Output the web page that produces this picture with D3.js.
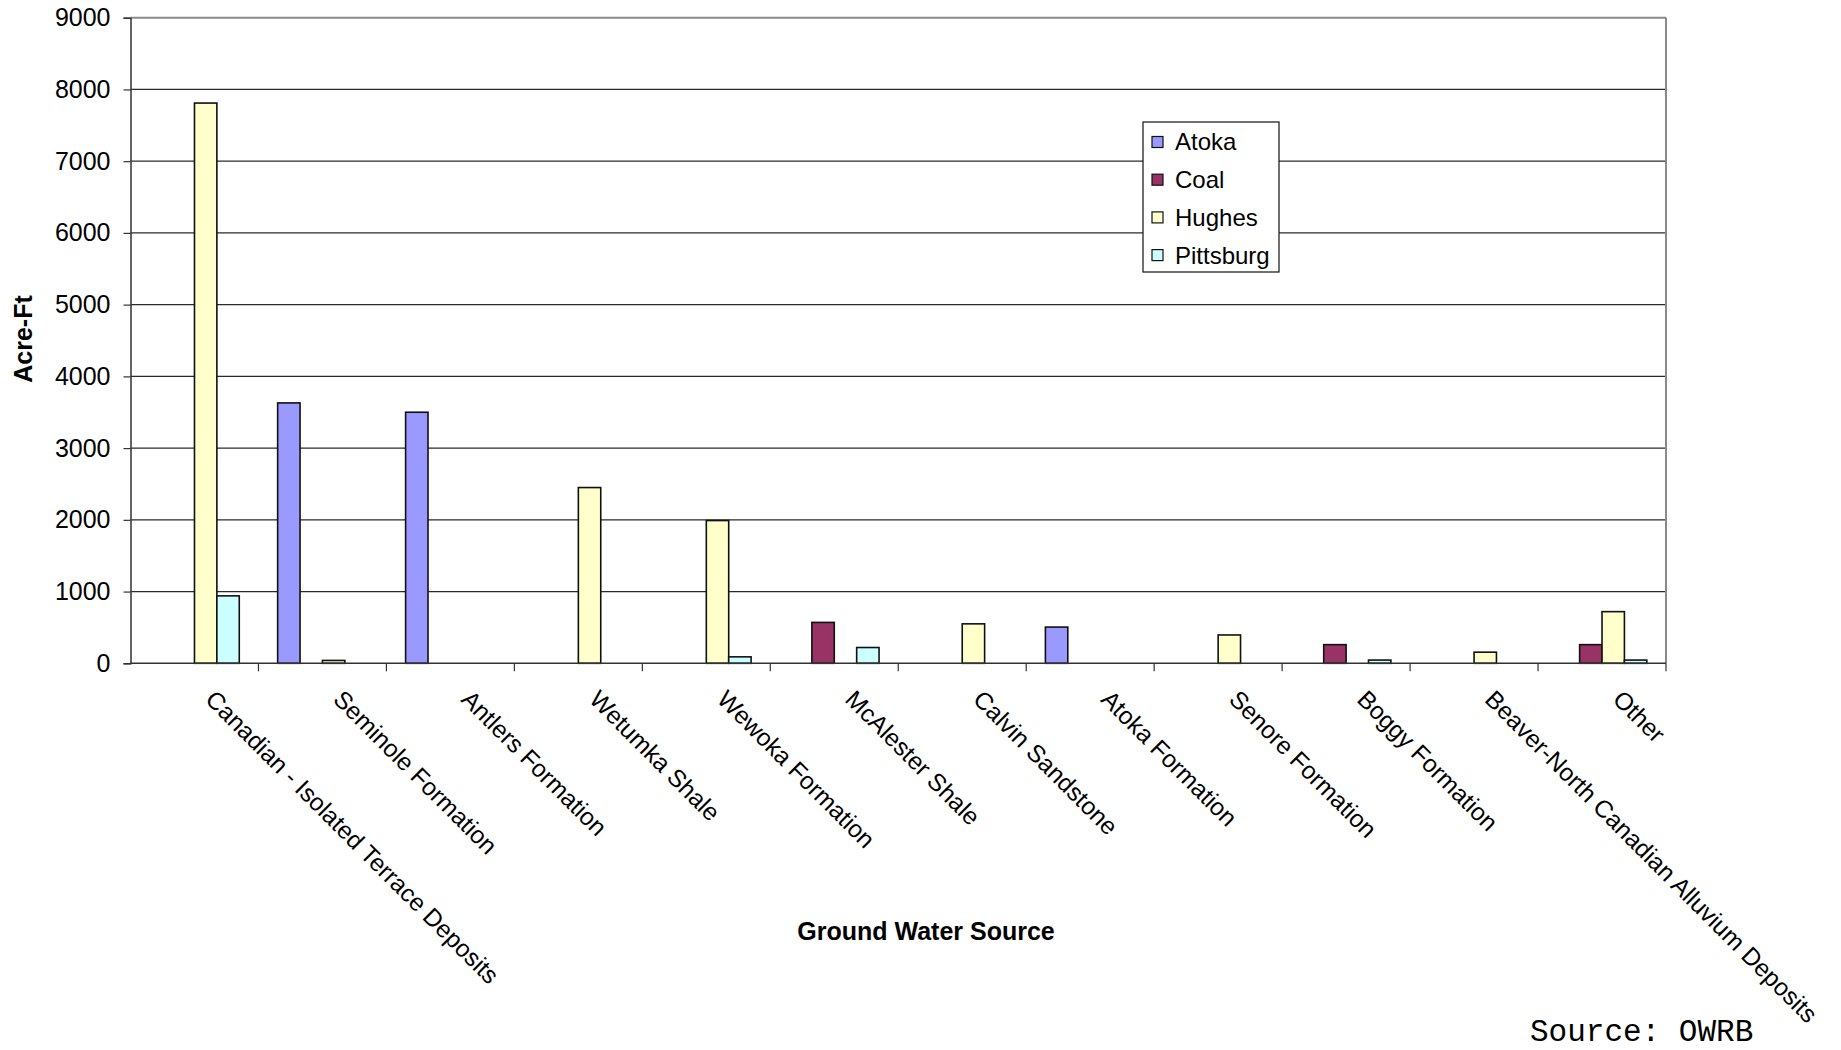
<!DOCTYPE html>
<html>
<head>
<meta charset="utf-8">
<script src="https://cdn.jsdelivr.net/npm/d3@7"></script>
<style>
  html, body { margin: 0; padding: 0; background: #fff; }
  svg { display: block; font-family: Arial, "Liberation Sans", sans-serif; }
</style>
</head>
<body>
<svg id="chart" width="1841" height="1050"></svg>
<script>
// Ground water use by source formation, per county (acre-feet)
const categories = [
  "Canadian - Isolated Terrace Deposits",
  "Seminole Formation",
  "Antlers Formation",
  "Wetumka Shale",
  "Wewoka Formation",
  "McAlester Shale",
  "Calvin Sandstone",
  "Atoka Formation",
  "Senore Formation",
  "Boggy Formation",
  "Beaver-North Canadian Alluvium Deposits",
  "Other"
];
const seriesNames = ["Atoka", "Coal", "Hughes", "Pittsburg"];
const atoka     = [0, 3630, 3500, 0, 0, 0, 0, 505, 0, 0, 0, 0];
const coal      = [0, 0, 0, 0, 0, 570, 0, 0, 0, 260, 0, 260];
const hughes    = [7810, 40, 0, 2450, 1990, 0, 550, 0, 395, 0, 155, 720];
const pittsburg = [940, 0, 0, 0, 90, 220, 0, 0, 0, 45, 0, 45];
const yTicks = [0, 1000, 2000, 3000, 4000, 5000, 6000, 7000, 8000, 9000];
const colors = ["#9999FF", "#993366", "#FFFFCC", "#CCFFFF"];

const seriesValues = [atoka, coal, hughes, pittsburg];
const rows = categories.map((c, i) => ({
  cat: c,
  vals: seriesNames.map((s, k) => ({ key: s, value: seriesValues[k][i] }))
}));

const svg = d3.select("#chart");
const plot = { left: 130.5, right: 1666, top: 17.7, bottom: 663.3 };

const x0 = d3.scaleBand().domain(categories)
  .range([plot.left, plot.right]).paddingInner(0.3).paddingOuter(0.15);
const x1 = d3.scaleBand().domain(seriesNames).range([0, x0.bandwidth()]);
const y = d3.scaleLinear().domain([0, 9000]).range([plot.bottom, plot.top]);

// horizontal gridlines
svg.append("g")
  .selectAll("line").data(yTicks.filter(t => t > 0)).join("line")
  .attr("x1", plot.left).attr("x2", plot.right)
  .attr("y1", d => y(d)).attr("y2", d => y(d))
  .attr("stroke", d => d === 9000 ? "#8a8a8a" : "#2a2a2a")
  .attr("stroke-width", d => d === 9000 ? 2 : 1.2);

// right border of the plot area
svg.append("line")
  .attr("x1", plot.right).attr("x2", plot.right)
  .attr("y1", plot.top).attr("y2", plot.bottom)
  .attr("stroke", "#8a8a8a").attr("stroke-width", 2);

// bars
const groups = svg.append("g").selectAll("g").data(rows).join("g")
  .attr("transform", d => `translate(${x0(d.cat)},0)`);
groups.selectAll("rect")
  .data(d => d.vals.filter(v => v.value > 0))
  .join("rect")
  .attr("x", d => x1(d.key))
  .attr("width", x1.bandwidth())
  .attr("y", d => y(d.value))
  .attr("height", d => y(0) - y(d.value))
  .attr("fill", d => colors[seriesNames.indexOf(d.key)])
  .attr("stroke", "#111")
  .attr("stroke-width", 1.6);

// y axis
const yAxis = d3.axisLeft(y).tickValues(yTicks).tickSize(7).tickPadding(13)
  .tickFormat(d3.format("d"));
const gy = svg.append("g").attr("transform", `translate(${plot.left},0)`).call(yAxis);
gy.select(".domain").attr("stroke", "#333").attr("stroke-width", 1.5);
gy.selectAll(".tick line").attr("stroke", "#333").attr("stroke-width", 1.2);
gy.selectAll(".tick text").attr("font-size", 25).attr("fill", "#000")
  .attr("font-family", "Arial, 'Liberation Sans', sans-serif");

// x axis: baseline with tick marks at category boundaries
const step = x0.step();
const boundaries = d3.range(categories.length + 1).map(i => plot.left + i * step);
svg.append("line")
  .attr("x1", plot.left).attr("x2", plot.right)
  .attr("y1", plot.bottom).attr("y2", plot.bottom)
  .attr("stroke", "#333").attr("stroke-width", 1.5);
svg.append("g").selectAll("line").data(boundaries.slice(1)).join("line")
  .attr("x1", d => d).attr("x2", d => d)
  .attr("y1", plot.bottom).attr("y2", plot.bottom + 8)
  .attr("stroke", "#333").attr("stroke-width", 1.2);

// rotated category labels
svg.append("g").selectAll("text").data(categories).join("text")
  .attr("transform", d => `translate(${x0(d) + x0.bandwidth() / 2 + 22},${plot.bottom + 25}) rotate(45)`)
  .attr("dy", "0.72em")
  .attr("font-size", 24.5)
  .attr("fill", "#000")
  .text(d => d);

// axis titles
svg.append("text")
  .attr("transform", "translate(32,339) rotate(-90)")
  .attr("text-anchor", "middle")
  .attr("font-size", 25).attr("font-weight", "bold")
  .text("Acre-Ft");
svg.append("text")
  .attr("x", 926).attr("y", 940)
  .attr("text-anchor", "middle")
  .attr("font-size", 25).attr("font-weight", "bold")
  .text("Ground Water Source");

// legend
const legend = svg.append("g").attr("transform", "translate(1143,122)");
legend.append("rect")
  .attr("width", 136).attr("height", 150)
  .attr("fill", "#fff").attr("stroke", "#111").attr("stroke-width", 1.2);
const items = legend.selectAll("g").data(seriesNames).join("g")
  .attr("transform", (d, i) => `translate(0,${20 + i * 37.7})`);
items.append("rect")
  .attr("x", 9).attr("y", -5.5).attr("width", 11).attr("height", 11)
  .attr("fill", (d, i) => colors[i]).attr("stroke", "#111").attr("stroke-width", 1.2);
items.append("text")
  .attr("x", 32).attr("dy", "0.35em")
  .attr("font-size", 24)
  .text(d => d);

// source note
svg.append("text")
  .attr("x", 1530).attr("y", 1041)
  .attr("font-family", "'Liberation Mono', 'Courier New', monospace")
  .attr("font-size", 31)
  .text("Source: OWRB");
</script>
</body>
</html>
